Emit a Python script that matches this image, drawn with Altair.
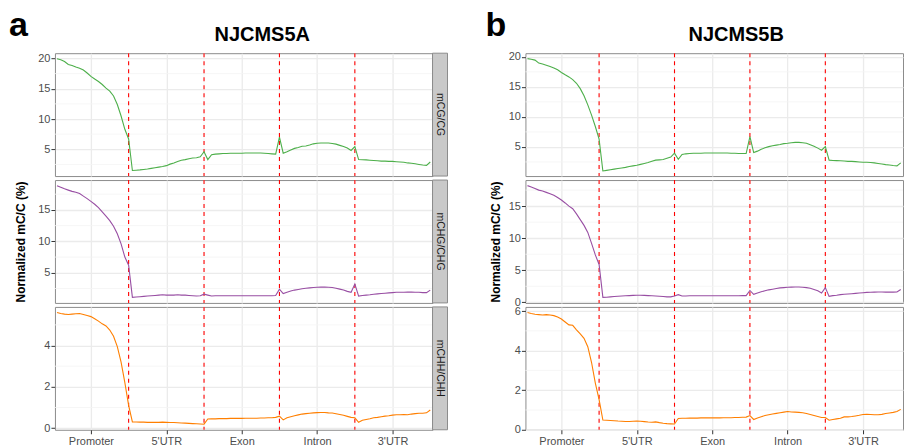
import json
import altair as alt
import pandas as pd

# ---------------- data ----------------
samples = ["NJCMS5A", "NJCMS5B"]
panel_letters = ["a", "b"]
contexts = ["mCG/CG", "mCHG/CHG", "mCHH/CHH"]
line_colors = ["#4DAF4A", "#984EA3", "#FF7F00"]
regions = ["Promoter", "5'UTR", "Exon", "Intron", "3'UTR"]
bins = list(range(1, 101))            # 20 bins per region
region_tick_bins = [10, 30, 50, 70, 90]
boundary_bins = [20, 40, 60, 80]

a_cg = [19.95, 19.8, 19.5, 19.0, 18.85, 18.6, 18.4, 18.1, 17.6, 17.05, 16.6, 16.2, 15.7, 15.1, 14.6, 13.8, 12.4, 10.5, 8.3, 6.7,
        1.5, 1.55, 1.6, 1.67, 1.75, 1.85, 1.95, 2.05, 2.15, 2.3, 2.55, 2.75, 3.0, 3.2, 3.3, 3.45, 3.55, 3.6, 3.75, 4.6,
        3.3, 4.1, 4.2, 4.25, 4.3, 4.3, 4.35, 4.35, 4.35, 4.35, 4.4, 4.4, 4.4, 4.4, 4.4, 4.35, 4.3, 4.25, 4.2, 7.0,
        4.35, 4.6, 4.9, 5.15, 5.3, 5.5, 5.55, 5.7, 5.9, 6.0, 6.05, 6.05, 6.05, 5.95, 5.85, 5.65, 5.45, 5.2, 4.8, 5.45,
        3.3, 3.28, 3.25, 3.2, 3.15, 3.1, 3.05, 3.05, 3.0, 3.0, 2.95, 2.9, 2.85, 2.75, 2.7, 2.6, 2.5, 2.4, 2.35, 2.9]
a_chg = [18.86, 18.6, 18.35, 18.15, 17.95, 17.8, 17.6, 17.2, 16.8, 16.35, 15.9, 15.35, 14.7, 14.0, 13.3, 12.4, 11.2, 9.6, 7.5, 6.2,
         1.1, 1.15, 1.2, 1.25, 1.3, 1.35, 1.4, 1.45, 1.5, 1.45, 1.45, 1.45, 1.5, 1.45, 1.45, 1.4, 1.35, 1.3, 1.35, 1.6,
         1.45, 1.3, 1.35, 1.35, 1.35, 1.35, 1.35, 1.35, 1.35, 1.35, 1.35, 1.35, 1.35, 1.35, 1.35, 1.35, 1.35, 1.35, 1.4, 2.4,
         1.7, 1.9, 2.1, 2.25, 2.35, 2.45, 2.55, 2.6, 2.65, 2.7, 2.72, 2.72, 2.7, 2.65, 2.55, 2.4, 2.25, 2.05, 1.9, 3.2,
         1.3, 1.4, 1.45, 1.5, 1.6, 1.65, 1.7, 1.75, 1.8, 1.85, 1.9, 1.9, 1.9, 1.92, 1.92, 1.9, 1.9, 1.85, 1.85, 2.25]
a_chh = [5.6, 5.55, 5.52, 5.5, 5.52, 5.54, 5.55, 5.5, 5.45, 5.4, 5.3, 5.18, 5.05, 4.95, 4.75, 4.45, 3.95, 3.2, 2.2, 1.1,
         0.3, 0.3, 0.29, 0.29, 0.28, 0.28, 0.28, 0.28, 0.29, 0.28, 0.27, 0.27, 0.26, 0.25, 0.24, 0.23, 0.22, 0.21, 0.2, 0.19,
         0.44, 0.45, 0.45, 0.46, 0.46, 0.46, 0.47, 0.47, 0.47, 0.47, 0.48, 0.48, 0.48, 0.48, 0.49, 0.49, 0.5, 0.5, 0.52, 0.58,
         0.4, 0.5, 0.55, 0.6, 0.64, 0.68, 0.7, 0.72, 0.74, 0.75, 0.76, 0.76, 0.74, 0.73, 0.7, 0.66, 0.62, 0.57, 0.52, 0.5,
         0.28, 0.38, 0.42, 0.45, 0.5, 0.52, 0.55, 0.58, 0.6, 0.63, 0.65, 0.65, 0.66, 0.65, 0.68, 0.7, 0.72, 0.72, 0.74, 0.88]

b_cg = [19.7, 19.6, 19.45, 18.95, 18.8, 18.6, 18.4, 18.15, 17.85, 17.4, 17.0, 16.65, 16.2, 15.6, 14.7, 13.5, 12.0, 10.3, 8.4, 6.3,
        1.0, 1.1, 1.2, 1.3, 1.4, 1.5, 1.6, 1.75, 1.85, 1.95, 2.1, 2.25, 2.4, 2.6, 2.8, 2.85, 2.9, 3.1, 3.3, 3.95,
        2.95, 3.75, 3.85, 3.9, 3.95, 3.95, 3.95, 4.0, 4.0, 4.0, 4.0, 4.0, 4.0, 4.0, 3.95, 3.95, 3.9, 3.9, 3.9, 6.7,
        4.05, 4.3, 4.6, 4.85, 5.05, 5.2, 5.3, 5.4, 5.55, 5.6, 5.7, 5.75, 5.75, 5.7, 5.6, 5.35, 5.1, 4.8, 4.45, 5.05,
        2.8, 2.75, 2.72, 2.7, 2.65, 2.6, 2.6, 2.55, 2.5, 2.45, 2.45, 2.4, 2.35, 2.25, 2.15, 2.05, 2.0, 1.9, 1.85, 2.35]
b_chg = [18.2, 18.0, 17.75, 17.5, 17.35, 17.15, 16.95, 16.7, 16.35, 15.95, 15.5, 15.0, 14.6, 13.8, 12.9, 12.0, 10.9, 9.2, 7.4, 5.9,
         0.78, 0.8, 0.85, 0.9, 0.95, 1.0, 1.02, 1.05, 1.08, 1.1, 1.1, 1.08, 1.05, 1.02, 1.0, 0.95, 0.9, 0.85, 0.85, 1.0,
         1.2, 1.0, 1.0, 1.02, 1.02, 1.03, 1.03, 1.03, 1.03, 1.03, 1.03, 1.03, 1.03, 1.03, 1.03, 1.03, 1.03, 1.05, 1.05, 1.85,
         1.25, 1.45, 1.65, 1.8, 1.95, 2.05, 2.15, 2.25, 2.3, 2.35, 2.38, 2.4, 2.4, 2.35, 2.3, 2.2, 2.0, 1.8, 1.45, 2.3,
         0.93, 1.05, 1.1, 1.2, 1.25, 1.3, 1.35, 1.4, 1.45, 1.5, 1.55, 1.58, 1.6, 1.62, 1.62, 1.6, 1.6, 1.6, 1.62, 2.0]
b_chh = [5.93, 5.88, 5.84, 5.82, 5.8, 5.82, 5.8, 5.77, 5.7, 5.6, 5.45, 5.3, 5.28, 5.05, 4.85, 4.62, 4.2, 3.4, 2.36, 1.52,
         0.49, 0.48, 0.47, 0.46, 0.44, 0.43, 0.42, 0.42, 0.43, 0.44, 0.43, 0.41, 0.39, 0.38, 0.4, 0.36, 0.33, 0.31, 0.3, 0.29,
         0.57, 0.58, 0.58, 0.59, 0.59, 0.59, 0.6, 0.6, 0.6, 0.6, 0.6, 0.6, 0.61, 0.61, 0.61, 0.62, 0.62, 0.63, 0.64, 0.72,
         0.52, 0.6, 0.66, 0.72, 0.76, 0.8, 0.83, 0.86, 0.89, 0.92, 0.9, 0.89, 0.88, 0.86, 0.82, 0.77, 0.72, 0.67, 0.62, 0.62,
         0.48, 0.52, 0.55, 0.58, 0.65, 0.65, 0.67, 0.7, 0.73, 0.77, 0.78, 0.77, 0.76, 0.76, 0.78, 0.82, 0.85, 0.88, 0.92, 1.03]

series = [[a_cg, a_chg, a_chh], [b_cg, b_chg, b_chh]]

y_domains = [[[0.58, 20.87], [0.21, 19.75], [-0.08, 5.87]],
             [[0.15, 20.6], [-0.09, 19.07], [0.0, 6.21]]]
y_ticks = [[[5, 10, 15, 20], [5, 10, 15], [0, 2, 4]],
           [[5, 10, 15, 20], [0, 5, 10, 15], [0, 2, 4, 6]]]
y_minor = [[[2.5, 7.5, 12.5, 17.5], [2.5, 7.5, 12.5, 17.5], [1, 3, 5]],
           [[2.5, 7.5, 12.5, 17.5], [2.5, 7.5, 12.5, 17.5], [1, 3, 5]]]
y_title = "Normalized mC/C (%)"

# ---------------- layout constants ----------------
PW, PH = 378, 123
STRIP_W = 15
PANEL_GAP = 78
FONT = "Liberation Sans"
X_DOMAIN = [0.46, 100.6]
LETTER_X = [-46, -40]
TITLE_X = [207.5, 211]
TITLE_PAD = [5, 1]
label_expr = json.dumps(regions) + "[(datum.value - 10) / 20]"


def x_enc(r):
    if r == 2:
        ax = alt.Axis(values=region_tick_bins, labelExpr=label_expr, tickSize=4, labelPadding=2,
                      grid=True, domain=False, title=None, labelAngle=0)
    else:
        ax = alt.Axis(values=region_tick_bins, labels=False, ticks=False, domain=False,
                      grid=True, title=None)
    return alt.X("x:Q", scale=alt.Scale(domain=X_DOMAIN, nice=False, zero=False), axis=ax)


def y_enc(p, r):
    ax = alt.Axis(values=y_ticks[p][r], tickSize=4, labelPadding=1, minExtent=22, maxExtent=22,
                  grid=True, domain=False, title=y_title, titlePadding=TITLE_PAD[p],
                  titleOpacity=1 if r == 1 else 0)
    return alt.Y("y:Q", scale=alt.Scale(domain=y_domains[p][r], nice=False, zero=False), axis=ax)


def plot_row(p, r):
    line_df = pd.DataFrame({"x": bins, "y": series[p][r]})
    minor_y_df = pd.DataFrame({"y": y_minor[p][r]})
    minor_x_df = pd.DataFrame({"x": boundary_bins})
    bound_df = pd.DataFrame({"x": boundary_bins})

    minor_y = alt.Chart(minor_y_df).mark_rule(color="#F4F4F4", strokeWidth=0.8).encode(y=y_enc(p, r))
    minor_x = alt.Chart(minor_x_df).mark_rule(color="#F4F4F4", strokeWidth=0.8).encode(x=x_enc(r))
    dashes = alt.Chart(bound_df).mark_rule(color="#FF0000", strokeDash=[4, 4], strokeWidth=1.1).encode(x=x_enc(r))
    line = alt.Chart(line_df).mark_line(color=line_colors[r], strokeWidth=1.1).encode(x=x_enc(r), y=y_enc(p, r))
    layers = [minor_y, minor_x, dashes, line]
    if r == 0:
        head_df = pd.DataFrame({"letter": [panel_letters[p]], "sample": [samples[p]]})
        letter = alt.Chart(head_df).mark_text(align="left", baseline="alphabetic", fontSize=34,
                                              fontWeight="bold", font=FONT, color="black").encode(
            x=alt.value(LETTER_X[p]), y=alt.value(-17), text="letter:N")
        title = alt.Chart(head_df).mark_text(align="center", baseline="alphabetic", fontSize=20,
                                             fontWeight="bold", font=FONT, color="black").encode(
            x=alt.value(TITLE_X[p]), y=alt.value(-12), text="sample:N")
        layers += [letter, title]
    return alt.layer(*layers).properties(width=PW, height=PH)


def strip(p, r):
    df = pd.DataFrame({"ctx": [contexts[r]]})
    if p == 0:
        # full strip plus the gap up to panel b
        rect = alt.Chart(df).mark_rect(fill="#C9C9C9", stroke="#8C8C8C", strokeWidth=1).encode(
            x=alt.value(0), x2=alt.value(STRIP_W), y=alt.value(0), y2=alt.value(PH))
        text = alt.Chart(df).mark_text(angle=90, fontSize=10.5, color="#1A1A1A", font=FONT,
                                       baseline="middle", align="center").encode(
            x=alt.value(STRIP_W / 2), y=alt.value(PH / 2), text="ctx:N")
        return [alt.layer(rect, text).properties(
            width=STRIP_W + PANEL_GAP, height=PH,
            view=alt.ViewBackground(stroke="transparent", strokeWidth=0))]
    # panel b's strip lies outside the picture
    return []


cells = []
for r in range(3):
    cells += [plot_row(0, r)] + strip(0, r) + [plot_row(1, r)]

chart = alt.concat(*cells, columns=3, spacing={"row": 4, "column": 0},
                   bounds="flush", align="each").properties(
    padding=0
).configure_axis(
    gridColor="#EBEBEB", gridWidth=1.3, tickColor="#333333", tickWidth=1,
    labelColor="#4D4D4D", labelFont=FONT, labelFontSize=11,
    titleFont=FONT, titleFontSize=12, titleFontWeight="bold", titleColor="black"
).configure_view(
    stroke="#8C8C8C", strokeWidth=1
)

chart.save("out.html", embed_options={"renderer": "svg", "actions": False})
